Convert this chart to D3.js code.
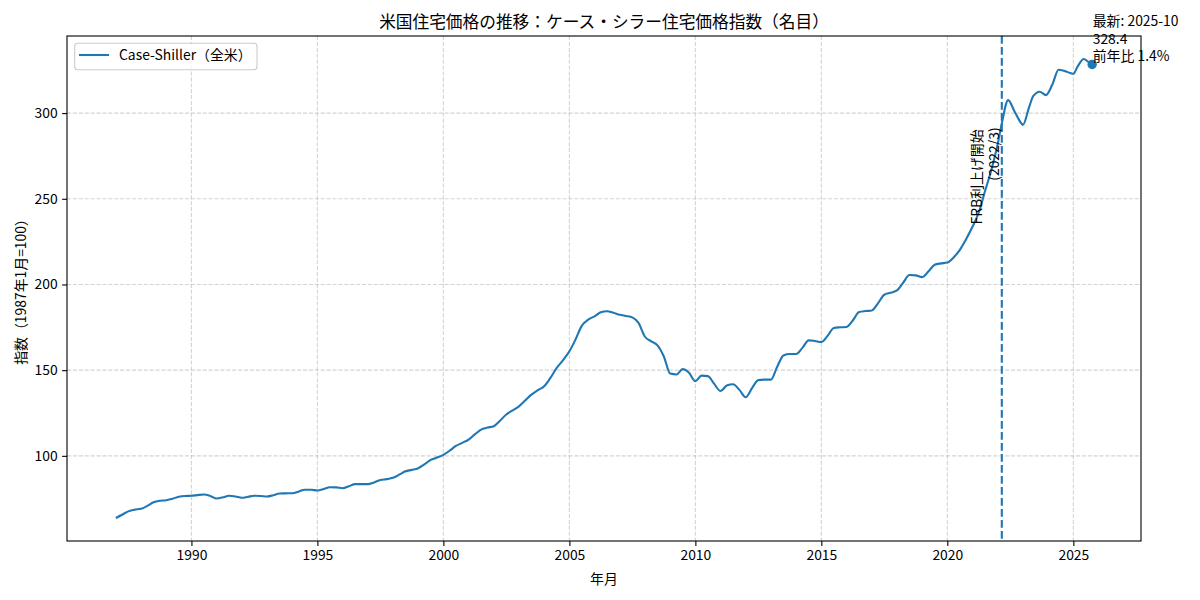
<!DOCTYPE html>
<html>
<head>
<meta charset="utf-8">
<script src="https://cdn.jsdelivr.net/npm/d3@7"></script>
<style>
    body { margin: 0; background: #fff; }
    text { font-family: "Noto Sans CJK JP", "Noto Sans", sans-serif; fill: #000; }
</style>
</head>
<body>
<div id="chart"></div>
<script>
// monthly readings (roughly quarterly) of the national index
const months = [
    "1987-01", "1987-04", "1987-07", "1987-10",
    "1988-01", "1988-04", "1988-07", "1988-10",
    "1989-01", "1989-04", "1989-07", "1989-10",
    "1990-01", "1990-04", "1990-07", "1990-10",
    "1991-01", "1991-04", "1991-07", "1991-10",
    "1992-01", "1992-04", "1992-07", "1992-10",
    "1993-01", "1993-04", "1993-07", "1993-10",
    "1994-01", "1994-04", "1994-07", "1994-10",
    "1995-01", "1995-04", "1995-07", "1995-10",
    "1996-01", "1996-04", "1996-07", "1996-10",
    "1997-01", "1997-04", "1997-07", "1997-10",
    "1998-01", "1998-04", "1998-07", "1998-10",
    "1999-01", "1999-04", "1999-07", "1999-10",
    "2000-01", "2000-04", "2000-07", "2000-10",
    "2001-01", "2001-04", "2001-07", "2001-10",
    "2002-01", "2002-04", "2002-07", "2002-10",
    "2003-01", "2003-04", "2003-07", "2003-10",
    "2004-01", "2004-04", "2004-07", "2004-10",
    "2005-01", "2005-04", "2005-07", "2005-10",
    "2006-01", "2006-04", "2006-07", "2006-10",
    "2007-01", "2007-04", "2007-07", "2007-10",
    "2008-01", "2008-04", "2008-07", "2008-10",
    "2009-01", "2009-04", "2009-07", "2009-10",
    "2010-01", "2010-04", "2010-07", "2010-10",
    "2011-01", "2011-04", "2011-07", "2011-10",
    "2012-01", "2012-04", "2012-07", "2012-10",
    "2013-01", "2013-04", "2013-07", "2013-10",
    "2014-01", "2014-04", "2014-07", "2014-10",
    "2015-01", "2015-04", "2015-07", "2015-10",
    "2016-01", "2016-04", "2016-07", "2016-10",
    "2017-01", "2017-04", "2017-07", "2017-10",
    "2018-01", "2018-04", "2018-07", "2018-10",
    "2019-01", "2019-04", "2019-07", "2019-10",
    "2020-01", "2020-04", "2020-07", "2020-10",
    "2021-01", "2021-04", "2021-07", "2021-10",
    "2022-01", "2022-03", "2022-06", "2022-09", "2022-12",
    "2023-01", "2023-04", "2023-06", "2023-09", "2023-12",
    "2024-03", "2024-06", "2024-09", "2024-12",
    "2025-01", "2025-03", "2025-06", "2025-08", "2025-10"
];
const index = [
    63.7, 65.6, 67.6, 68.6,
    69.1, 70.8, 72.9, 73.8,
    74.1, 75.0, 76.1, 76.6,
    76.7, 77.1, 77.4, 76.6,
    75.1, 75.8, 76.7, 76.3,
    75.5, 76.1, 76.7, 76.6,
    76.3, 77.0, 78.0, 78.1,
    78.2, 79.1, 80.2, 80.2,
    79.8, 80.6, 81.7, 81.6,
    81.1, 82.2, 83.5, 83.5,
    83.5, 84.5, 85.9, 86.4,
    87.2, 89.0, 91.0, 91.8,
    92.8, 95.0, 97.6, 99.0,
    100.6, 103.0, 105.8, 107.6,
    109.5, 112.5, 115.3, 116.5,
    117.3, 120.5, 124.1, 126.5,
    128.9, 132.3, 135.7, 138.3,
    140.6, 145.5, 151.3, 155.8,
    161.0, 168.0, 176.0, 179.5,
    181.4, 183.8, 184.4, 183.5,
    182.3, 181.6, 180.8, 177.5,
    169.5, 166.8, 164.5, 158.0,
    148.0, 147.5, 150.6, 148.5,
    143.5, 146.8, 146.5, 142.0,
    137.8, 141.0, 141.8, 138.5,
    134.2, 139.5, 144.2, 144.5,
    144.5, 152.0, 158.6, 159.4,
    159.4, 163.0, 167.4, 167.0,
    166.4, 170.0, 174.6, 175.0,
    175.2, 179.0, 183.9, 184.5,
    184.8, 189.0, 194.0, 195.2,
    196.5, 201.0, 205.5, 205.3,
    204.3, 207.5, 211.5, 212.3,
    212.8, 215.8, 220.2, 226.5,
    233.8, 242.0, 254.5, 267.0,
    282.0, 294.0, 307.6, 301.0, 294.5,
    293.1, 303.5, 310.0, 312.5, 310.5,
    316.5, 325.3, 324.5, 323.2,
    323.0, 327.0, 331.6, 330.0, 328.4
];

const yTicks = [100, 150, 200, 250, 300];
const hikeMonth = "2022-03";
const latestLines = ["最新: 2025-10", "328.4", "前年比 1.4%"];
const hikeLines = ["FRB利上げ開始", "(2022/3)"];
const seriesName = "Case-Shiller（全米）";
const chartTitle = "米国住宅価格の推移：ケース・シラー住宅価格指数（名目）";

const blue = "#1f77b4";
const parseMonth = d3.timeParse("%Y-%m");

var data = months.map((m, i) => ({ date: parseMonth(m), value: index[i] }));

// figure size and axes box (matplotlib like)
var width = 1200, height = 600;
var margin = { top: 36, right: 59, bottom: 59, left: 67 };
var plotW = width - margin.left - margin.right;
var plotH = height - margin.top - margin.bottom;

var svg = d3.select("#chart")
    .append("svg")
    .attr("width", width)
    .attr("height", height);

var g = svg.append("g")
    .attr("transform", "translate(" + margin.left + "," + margin.top + ")");

// 5% padding on both axes like autoscale
var xExt = d3.extent(data, d => d.date);
var xPad = (xExt[1] - xExt[0]) * 0.05;
var x = d3.scaleTime()
    .domain([new Date(+xExt[0] - xPad), new Date(+xExt[1] + xPad)])
    .range([0, plotW]);

var yExt = d3.extent(data, d => d.value);
var yPad = (yExt[1] - yExt[0]) * 0.05;
var y = d3.scaleLinear()
    .domain([yExt[0] - yPad, yExt[1] + yPad])
    .range([plotH, 0]);

var xTicks = x.ticks(d3.timeYear.every(5));

// grid
g.append("g").selectAll("line")
    .data(xTicks)
    .join("line")
    .attr("x1", d => x(d)).attr("x2", d => x(d))
    .attr("y1", 0).attr("y2", plotH)
    .attr("stroke", "#b0b0b0")
    .attr("stroke-opacity", 0.55)
    .attr("stroke-width", 1.1)
    .attr("stroke-dasharray", "4.1,1.8");

g.append("g").selectAll("line")
    .data(yTicks)
    .join("line")
    .attr("x1", 0).attr("x2", plotW)
    .attr("y1", d => y(d)).attr("y2", d => y(d))
    .attr("stroke", "#b0b0b0")
    .attr("stroke-opacity", 0.55)
    .attr("stroke-width", 1.1)
    .attr("stroke-dasharray", "4.1,1.8");

// axes
var xAxis = g.append("g")
    .attr("transform", "translate(0," + plotH + ")")
    .call(d3.axisBottom(x).tickValues(xTicks).tickFormat(d3.timeFormat("%Y"))
        .tickSize(4.9).tickPadding(4.5));
var yAxis = g.append("g")
    .call(d3.axisLeft(y).tickValues(yTicks).tickFormat(d3.format("d"))
        .tickSize(4.9).tickPadding(4.5));

[xAxis, yAxis].forEach(a => {
    a.select(".domain").remove();
    a.selectAll(".tick line").attr("stroke", "#000").attr("stroke-width", 1.1);
    a.selectAll(".tick text")
        .style("font-family", "'Noto Sans CJK JP', sans-serif")
        .style("font-size", "13.9px")
        .attr("fill", "#000");
});

// rate hike marker
var xh = x(parseMonth(hikeMonth));
g.append("line")
    .attr("x1", xh).attr("x2", xh)
    .attr("y1", 0).attr("y2", plotH)
    .attr("stroke", blue)
    .attr("stroke-width", 2.1)
    .attr("stroke-dasharray", "7.7,3.3");

// series line
var line = d3.line()
    .x(d => x(d.date))
    .y(d => y(d.value))
    .curve(d3.curveMonotoneX);

g.append("path")
    .datum(data)
    .attr("d", line)
    .attr("fill", "none")
    .attr("stroke", blue)
    .attr("stroke-width", 2.1)
    .attr("stroke-linejoin", "round");

// latest point
var last = data[data.length - 1];
g.append("circle")
    .attr("cx", x(last.date))
    .attr("cy", y(last.value))
    .attr("r", 4.7)
    .attr("fill", blue);

g.append("g").selectAll("text")
    .data(latestLines)
    .join("text")
    .attr("x", x(last.date) + 0.5)
    .attr("y", (d, i) => y(last.value) - 38 + i * 17.2)
    .style("font-size", "13.9px")
    .text(d => d);

// rotated annotation next to the dashed line
g.append("g").selectAll("text")
    .data(hikeLines)
    .join("text")
    .attr("transform", (d, i) => "translate(" + (xh - 19.5 + i * 16.5) + "," + (y(290.5) - i * 2) + ") rotate(-90)")
    .attr("text-anchor", "end")
    .style("font-size", "13.9px")
    .text(d => d);

// frame
g.append("rect")
    .attr("width", plotW)
    .attr("height", plotH)
    .attr("fill", "none")
    .attr("stroke", "#000")
    .attr("stroke-width", 1.1);

// legend
var legend = g.append("g").attr("transform", "translate(7.7,7.3)");
legend.append("rect")
    .attr("width", 182.3)
    .attr("height", 26.4)
    .attr("rx", 3).attr("ry", 3)
    .attr("fill", "#fff")
    .attr("fill-opacity", 0.8)
    .attr("stroke", "#cccccc")
    .attr("stroke-width", 1.1);
legend.append("line")
    .attr("x1", 4.3).attr("x2", 34.3)
    .attr("y1", 11.7).attr("y2", 11.7)
    .attr("stroke", blue)
    .attr("stroke-width", 2.1);
legend.append("text")
    .attr("x", 44.3)
    .attr("y", 17.2)
    .style("font-size", "13.9px")
    .text(seriesName);

// titles
svg.append("text")
    .attr("x", margin.left + plotW / 2)
    .attr("y", 28)
    .attr("text-anchor", "middle")
    .style("font-size", "16.7px")
    .text(chartTitle);

svg.append("text")
    .attr("x", margin.left + plotW / 2)
    .attr("y", 584)
    .attr("text-anchor", "middle")
    .style("font-size", "13.9px")
    .text("年月");

svg.append("text")
    .attr("transform", "translate(26," + (margin.top + plotH / 2) + ") rotate(-90)")
    .attr("text-anchor", "middle")
    .style("font-size", "13.9px")
    .text("指数（1987年1月=100）");
</script>
</body>
</html>
